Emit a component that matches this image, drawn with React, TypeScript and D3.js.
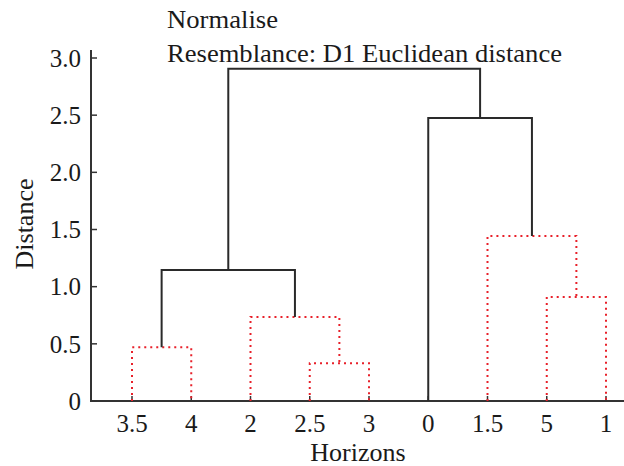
import React from "react";
import * as d3 from "d3";

const leaves = ["3.5", "4", "2", "2.5", "3", "0", "1.5", "5", "1"];
// merges: [left node id, right node id] — ids 0..8 are leaves, 9+ are merges in order
const mergeLeft = [3, 0, 2, 10, 7, 6, 5, 12];
const mergeRight = [4, 1, 9, 11, 8, 13, 14, 15];
const mergeHeight = [0.33, 0.47, 0.735, 1.146, 0.91, 1.444, 2.476, 2.905];
const mergeIsSub = [true, true, true, false, true, true, false, false];
const yTicks = [0, 0.5, 1.0, 1.5, 2.0, 2.5, 3.0];
const yTickLabels = ["0", "0.5", "1.0", "1.5", "2.0", "2.5", "3.0"];
const titleLines = ["Normalise", "Resemblance: D1 Euclidean distance"];
const titleWidths = [111, 395];

const W = 624, H = 466;
const axisX = 91, axisY = 401;
const font = "'Liberation Serif', 'Times New Roman', serif";

export default function App() {
  const x = d3.scalePoint<string>().domain(leaves).range([132, 606]);
  const y = d3.scaleLinear().domain([0, 3]).range([axisY, 58]);

  const nodeX: number[] = leaves.map((l) => x(l) as number);
  const nodeH: number[] = leaves.map(() => 0);
  mergeLeft.forEach((l, i) => {
    const r = mergeRight[i];
    nodeX.push((nodeX[l] + nodeX[r]) / 2);
    nodeH.push(mergeHeight[i]);
  });

  const paths = mergeLeft.map((l, i) => {
    const r = mergeRight[i];
    const h = mergeHeight[i];
    const p = d3.path();
    p.moveTo(nodeX[l], y(nodeH[l]));
    p.lineTo(nodeX[l], y(h));
    p.lineTo(nodeX[r], y(h));
    p.lineTo(nodeX[r], y(nodeH[r]));
    return { d: p.toString(), sub: mergeIsSub[i] };
  });

  return (
    <svg width={W} height={H} style={{ position: "absolute", left: 0, top: 0, background: "#fff" }}>
      <g fontFamily={font} fill="#1a1a1a">
        {titleLines.map((t, i) => (
          <text
            key={i}
            x={167}
            y={28 + i * 34}
            fontSize={25}
            textLength={titleWidths[i]}
            lengthAdjust="spacingAndGlyphs"
          >
            {t}
          </text>
        ))}
      </g>
      {/* axes */}
      <line x1={axisX} x2={axisX} y1={50} y2={axisY + 1} stroke="#333" strokeWidth={2} />
      <line x1={axisX - 1} x2={W} y1={axisY} y2={axisY} stroke="#333" strokeWidth={2} />
      {yTicks.map((t, i) => (
        <g key={i}>
          <line x1={axisX} x2={axisX + 6} y1={y(t)} y2={y(t)} stroke="#333" strokeWidth={1.5} />
          <text x={81} y={y(t)} dy="0.35em" textAnchor="end" fontFamily={font} fontSize={25} fill="#1a1a1a">
            {yTickLabels[i]}
          </text>
        </g>
      ))}
      {leaves.map((l) => (
        <g key={l}>
          <line x1={x(l)} x2={x(l)} y1={axisY} y2={axisY - 5} stroke="#333" strokeWidth={1.5} />
          <text x={x(l)} y={axisY + 31} textAnchor="middle" fontFamily={font} fontSize={25} fill="#1a1a1a">
            {l}
          </text>
        </g>
      ))}
      {/* dendrogram */}
      {paths.map((p, i) => (
        <path
          key={i}
          d={p.d}
          fill="none"
          stroke={p.sub ? "#e8202a" : "#2a2a2a"}
          strokeWidth={2}
          strokeDasharray={p.sub ? "2,4" : undefined}
        />
      ))}
      <text x={358} y={461} textAnchor="middle" fontFamily={font} fontSize={26} fill="#1a1a1a">Horizons</text>
      <text
        transform={`translate(33,224) rotate(-90)`}
        textAnchor="middle"
        fontFamily={font}
        fontSize={26}
        fill="#1a1a1a"
      >
        Distance
      </text>
    </svg>
  );
}
